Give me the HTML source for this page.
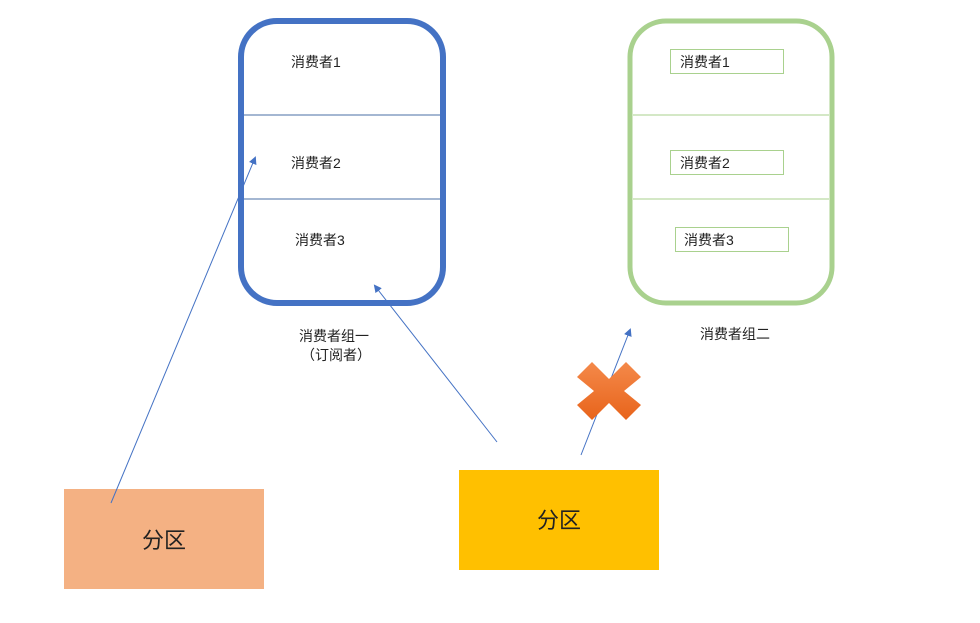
<!DOCTYPE html>
<html><head><meta charset="utf-8"><style>
html,body{margin:0;padding:0;background:#fff;}
svg{display:block;font-family:"Liberation Sans","Noto Sans CJK SC",sans-serif;}
</style></head><body>
<svg width="980" height="623" viewBox="0 0 980 623" xmlns="http://www.w3.org/2000/svg">
<defs>
<marker id="a" markerWidth="8" markerHeight="8" refX="6" refY="4" orient="auto" markerUnits="userSpaceOnUse">
<path d="M0,0 L8,4 L0,8 z" fill="#4472c4"/></marker>
<linearGradient id="g" x1="0" y1="0" x2="0" y2="1"><stop offset="0" stop-color="#f4894a"/><stop offset="1" stop-color="#e8641b"/></linearGradient>
</defs>
<rect x="241" y="21" width="202" height="282" rx="36" fill="none" stroke="#4472c4" stroke-width="6"/>
<line x1="244" y1="115" x2="440" y2="115" stroke="#4a6fa5" stroke-width="1"/>
<line x1="244" y1="199" x2="440" y2="199" stroke="#4a6fa5" stroke-width="1"/>
<text x="291" y="67" font-size="14" fill="#222">消费者1</text>
<text x="291" y="168" font-size="14" fill="#222">消费者2</text>
<text x="295" y="245" font-size="14" fill="#222">消费者3</text>
<text x="299" y="341" font-size="14" fill="#222">消费者组一</text>
<text x="301" y="360" font-size="14" fill="#222">（订阅者）</text>

<rect x="630" y="21" width="202" height="282" rx="36" fill="none" stroke="#a9d18e" stroke-width="5"/>
<line x1="633" y1="115" x2="829" y2="115" stroke="#a9d18e" stroke-width="1"/>
<line x1="633" y1="199" x2="829" y2="199" stroke="#a9d18e" stroke-width="1"/>
<rect x="670.5" y="49.5" width="113" height="24" fill="#fff" stroke="#a9d18e"/>
<rect x="670.5" y="150.5" width="113" height="24" fill="#fff" stroke="#a9d18e"/>
<rect x="675.5" y="227.5" width="113" height="24" fill="#fff" stroke="#a9d18e"/>
<text x="680" y="67" font-size="14" fill="#222">消费者1</text>
<text x="680" y="168" font-size="14" fill="#222">消费者2</text>
<text x="684" y="245" font-size="14" fill="#222">消费者3</text>
<text x="700" y="339" font-size="14" fill="#222">消费者组二</text>

<rect x="64" y="489" width="200" height="100" fill="#f4b183"/>
<text x="164" y="548" font-size="22" fill="#222" text-anchor="middle">分区</text>
<rect x="459" y="470" width="200" height="100" fill="#ffc000"/>
<text x="559" y="528" font-size="22" fill="#222" text-anchor="middle">分区</text>

<line x1="111" y1="503" x2="255" y2="158" stroke="#4472c4" stroke-width="1" marker-end="url(#a)"/>
<line x1="497" y1="442" x2="375" y2="286" stroke="#4472c4" stroke-width="1" marker-end="url(#a)"/>
<line x1="581" y1="455" x2="630" y2="330" stroke="#4472c4" stroke-width="1" marker-end="url(#a)"/>
<g transform="translate(609,391)">
<path d="M-32,-14 L-17,-29 L0,-12 L17,-29 L32,-14 L15,0 L32,14 L17,29 L0,12 L-17,29 L-32,14 L-15,0 Z" fill="url(#g)"/>
</g>
</svg>
</body></html>
